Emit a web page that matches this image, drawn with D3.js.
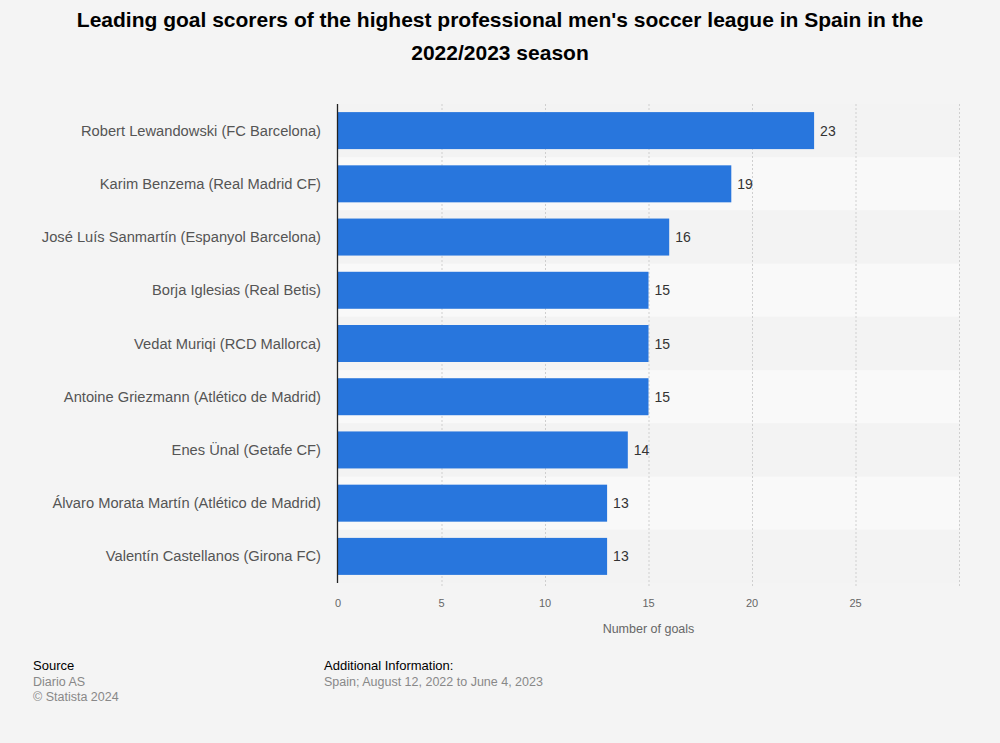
<!DOCTYPE html>
<html>
<head>
<meta charset="utf-8">
<script src="https://cdn.jsdelivr.net/npm/d3@7"></script>
<style>
    body { margin: 0; background: #f4f4f4; }
    svg { display: block; font-family: 'Liberation Sans', Arial, sans-serif; }
</style>
</head>
<body>
<div class="container"></div>
<script>
const players = [
    'Robert Lewandowski (FC Barcelona)',
    'Karim Benzema (Real Madrid CF)',
    'José Luís Sanmartín (Espanyol Barcelona)',
    'Borja Iglesias (Real Betis)',
    'Vedat Muriqi (RCD Mallorca)',
    'Antoine Griezmann (Atlético de Madrid)',
    'Enes Ünal (Getafe CF)',
    'Álvaro Morata Martín (Atlético de Madrid)',
    'Valentín Castellanos (Girona FC)'
];
const goals = [23, 19, 16, 15, 15, 15, 14, 13, 13];
const xTicks = [0, 5, 10, 15, 20, 25];

const w = 1000;
const h = 743;
const margin = { top: 104, right: 40, bottom: 160, left: 338 };

const svg = d3.select('.container')
    .append('svg')
    .attr('width', w)
    .attr('height', h);

svg.append('rect').attr('width', w).attr('height', h).attr('fill', '#f4f4f4');

// title
svg.append('text')
    .attr('x', w / 2)
    .attr('text-anchor', 'middle')
    .style('font-size', '21px')
    .style('font-weight', 'bold')
    .attr('fill', '#000')
    .selectAll('tspan')
    .data(["Leading goal scorers of the highest professional men's soccer league in Spain in the", '2022/2023 season'])
    .join('tspan')
    .attr('x', w / 2)
    .attr('y', (d, i) => 27 + i * 33)
    .text(d => d);

const x = d3.scaleLinear().domain([0, 30]).range([margin.left, w - margin.right - 1]);
const y = d3.scaleBand().domain(players).range([margin.top, h - margin.bottom]).paddingInner(0).paddingOuter(0);

// row bands
svg.append('g').selectAll('rect')
    .data(players)
    .join('rect')
    .attr('x', margin.left)
    .attr('y', d => y(d))
    .attr('width', x(30) - margin.left)
    .attr('height', y.bandwidth())
    .attr('fill', (d, i) => i % 2 ? '#f9f9f9' : '#f3f3f3');

// grid
svg.append('g').selectAll('line')
    .data(xTicks.slice(1).concat([30]))
    .join('line')
    .attr('x1', d => x(d) + 0.5)
    .attr('x2', d => x(d) + 0.5)
    .attr('y1', margin.top)
    .attr('y2', y.range()[1] + 5)
    .attr('stroke', '#cfcfcf')
    .attr('stroke-dasharray', '2,2');

// bars
const barH = 37;
svg.append('g').selectAll('rect')
    .data(players)
    .join('rect')
    .attr('x', margin.left)
    .attr('y', d => y(d) + (y.bandwidth() - barH) / 2)
    .attr('width', (d, i) => x(goals[i]) - margin.left)
    .attr('height', barH)
    .attr('fill', '#2876dd');

// value labels
svg.append('g').selectAll('text')
    .data(players)
    .join('text')
    .attr('x', (d, i) => x(goals[i]) + 6)
    .attr('y', d => y(d) + y.bandwidth() / 2 + 5)
    .style('font-size', '14px')
    .attr('fill', '#333')
    .text((d, i) => goals[i]);

// y labels
svg.append('g').selectAll('text')
    .data(players)
    .join('text')
    .attr('x', margin.left - 17)
    .attr('y', d => y(d) + y.bandwidth() / 2 + 5)
    .attr('text-anchor', 'end')
    .style('font-size', '14.7px')
    .attr('fill', '#555')
    .text(d => d);

// left axis line
svg.append('line')
    .attr('x1', margin.left - 0.5)
    .attr('x2', margin.left - 0.5)
    .attr('y1', margin.top)
    .attr('y2', y.range()[1])
    .attr('stroke', '#222')
    .attr('stroke-width', 1.3);

// x ticks
svg.append('g').selectAll('text')
    .data(xTicks)
    .join('text')
    .attr('x', d => x(d))
    .attr('y', 607)
    .attr('text-anchor', 'middle')
    .style('font-size', '11px')
    .attr('fill', '#666')
    .text(d => d);

svg.append('text')
    .attr('x', x(15))
    .attr('y', 633)
    .attr('text-anchor', 'middle')
    .style('font-size', '12.5px')
    .attr('fill', '#666')
    .text('Number of goals');

// footer
const foot = svg.append('g').style('font-size', '12.5px');
foot.append('text').attr('x', 33).attr('y', 670).attr('fill', '#000').style('font-size', '13px').text('Source');
foot.append('text').attr('x', 33).attr('y', 686).attr('fill', '#888').text('Diario AS');
foot.append('text').attr('x', 33).attr('y', 701).attr('fill', '#888').text('© Statista 2024');
foot.append('text').attr('x', 324).attr('y', 670).attr('fill', '#000').style('font-size', '13px').text('Additional Information:');
foot.append('text').attr('x', 324).attr('y', 686).attr('fill', '#888').text('Spain; August 12, 2022 to June 4, 2023');
</script>
</body>
</html>
